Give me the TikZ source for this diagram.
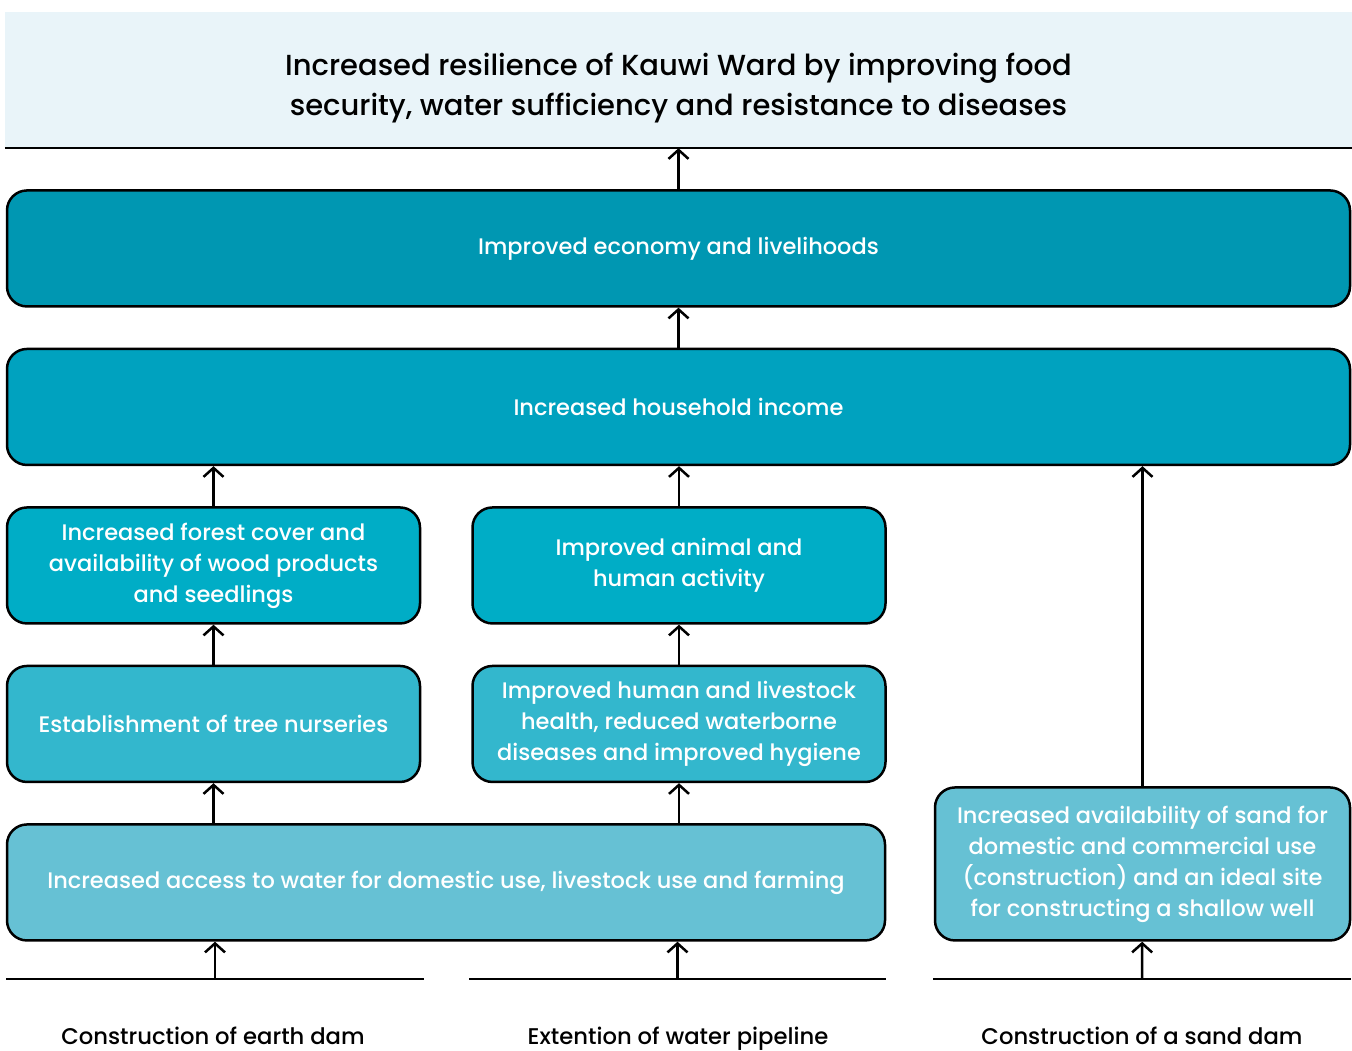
\documentclass[tikz,border=0pt]{standalone}
\usepackage{fontspec}
\setmainfont{Poppins}[UprightFont=* Medium]
\usetikzlibrary{arrows.meta,positioning}
\definecolor{kwgoal}{HTML}{E9F4F9}
\definecolor{kwecon}{HTML}{0097B2}
\definecolor{kwincome}{HTML}{00A2BF}
\definecolor{kwmid}{HTML}{00ADC6}
\definecolor{kwlow}{HTML}{33B7CD}
\definecolor{kwbase}{HTML}{66C1D4}
\tikzset{
  flowarrow/.style={-{Straight Barb[length=9pt,width=20pt]}, line width=2.5pt, draw=black},
  inputbar/.style={line width=2.5pt, draw=black},
  goalband/.style={fill=kwgoal, align=center, inner sep=0pt, minimum width=1347pt,
    minimum height=136pt, font=\fontsize{29}{40}\selectfont},
  outcome/.style={draw=black, line width=2.5pt, rounded corners=20pt, text=white,
    align=center, inner sep=0pt, minimum height=116pt, font=\fontsize{22.5}{31}\selectfont},
  inputlabel/.style={anchor=base, inner sep=0pt, font=\fontsize{22.7}{28}\selectfont}
}
\begin{document}
\begin{tikzpicture}[x=1pt, y=-1pt]
  \useasboundingbox (0,0) rectangle (1352,1050);

  \fill[kwgoal] (5,12) rectangle (1352,80);
  \node[goalband, text depth=0pt, minimum height=128pt] (goal) at (678.5,84) {Increased resilience of Kauwi Ward by improving food\\security, water sufficiency and resistance to diseases};
  \draw[inputbar] (goal.south west) -- (goal.south east);

  \node[outcome, fill=kwecon, minimum width=1343pt, below=41pt of goal] (econ) {Improved economy and livelihoods};
  \node[outcome, fill=kwincome, minimum width=1343pt, below=40pt of econ] (income) {Increased household income};

  \node[outcome, fill=kwmid, minimum width=413pt, below=40pt of income.south west, anchor=north west] (forest) {Increased forest cover and\\availability of wood products\\and seedlings};
  \node[outcome, fill=kwmid, minimum width=413pt, right=50pt of forest] (animal) {Improved animal and\\human activity};

  \node[outcome, fill=kwlow, minimum width=413pt, below=40pt of forest] (nursery) {Establishment of tree nurseries};
  \node[outcome, fill=kwlow, minimum width=413pt, below=40pt of animal] (health) {Improved human and livestock\\health, reduced waterborne\\diseases and improved hygiene};

  \node[outcome, fill=kwbase, minimum width=878pt, below=40pt of nursery.south west, anchor=north west] (water) {Increased access to water for domestic use, livestock use and farming};
  \node[outcome, fill=kwbase, minimum width=415pt, minimum height=153pt, anchor=south east] (sand) at (econ.east |- water.south) {Increased availability of sand for\\domestic and commercial use\\(construction) and an ideal site\\for constructing a shallow well};

  % inputs
  \coordinate (bar1) at (215,979);
  \coordinate (bar2) at (677.5,979);
  \coordinate (bar3) at (1142,979);
  \draw[inputbar] (6,979) -- (bar1) -- (424,979);
  \draw[inputbar] (469,979) -- (bar2) -- (886,979);
  \draw[inputbar] (933,979) -- (bar3) -- (1351,979);
  \node[inputlabel] (earth) at (213,1044) {Construction of earth dam};
  \node[inputlabel] (pipe) at (678,1044) {Extention of water pipeline};
  \node[inputlabel] (sanddam) at (1142,1044) {Construction of a sand dam};

  \draw[flowarrow] (bar1) -- (bar1 |- water.south);
  \draw[flowarrow] (bar2) -- (bar2 |- water.south);
  \draw[flowarrow] (bar3) -- (sand);
  \draw[flowarrow] (nursery.south |- water.north) -- (nursery);
  \draw[flowarrow] (health.south |- water.north) -- (health);
  \foreach \a/\b in {nursery/forest,health/animal,income/econ,econ/goal}
    \draw[flowarrow] (\a) -- (\b);
  \foreach \a in {forest,animal,sand}
    \draw[flowarrow] (\a) -- (\a.north |- income.south);
\end{tikzpicture}
\end{document}
